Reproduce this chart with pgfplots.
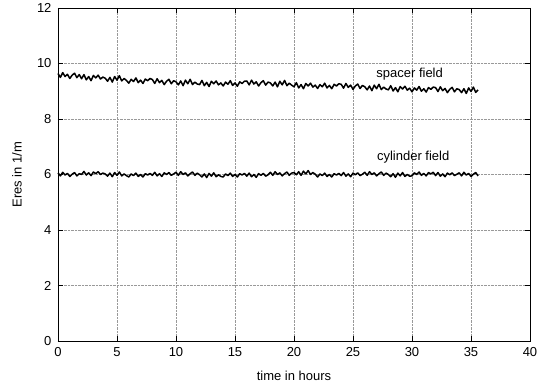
\documentclass[border=0pt]{standalone}
\usepackage{fontspec}
\setmainfont{Liberation Sans}
\usepackage{pgfplots}
\pgfplotsset{compat=1.18}
\usepackage{pgfplotstable}
\usetikzlibrary{calc}

\pgfplotstableread{
x y
0.0 9.64
0.2 9.50
0.4 9.67
0.6 9.53
0.8 9.61
1.0 9.46
1.2 9.58
1.4 9.65
1.6 9.49
1.8 9.60
2.0 9.45
2.2 9.60
2.4 9.41
2.6 9.53
2.8 9.38
3.0 9.57
3.2 9.48
3.4 9.58
3.6 9.44
3.8 9.51
4.0 9.47
4.2 9.36
4.4 9.50
4.6 9.33
4.8 9.53
5.0 9.40
5.2 9.56
5.4 9.37
5.6 9.46
5.8 9.39
6.0 9.29
6.2 9.43
6.4 9.35
6.6 9.48
6.8 9.31
7.0 9.40
7.2 9.28
7.4 9.44
7.6 9.38
7.8 9.46
8.0 9.42
8.2 9.28
8.4 9.45
8.6 9.31
8.8 9.39
9.0 9.24
9.2 9.36
9.4 9.43
9.6 9.27
9.8 9.38
10.0 9.34
10.2 9.23
10.4 9.37
10.6 9.20
10.8 9.40
11.0 9.27
11.2 9.43
11.4 9.24
11.6 9.33
11.8 9.26
12.0 9.24
12.2 9.39
12.4 9.20
12.6 9.32
12.8 9.17
13.0 9.36
13.2 9.27
13.4 9.37
13.6 9.23
13.8 9.30
14.0 9.19
14.2 9.33
14.4 9.25
14.6 9.38
14.8 9.21
15.0 9.30
15.2 9.18
15.4 9.34
15.6 9.28
15.8 9.36
16.0 9.37
16.2 9.23
16.4 9.40
16.6 9.26
16.8 9.34
17.0 9.19
17.2 9.31
17.4 9.38
17.6 9.22
17.8 9.33
18.0 9.30
18.2 9.19
18.4 9.33
18.6 9.16
18.8 9.36
19.0 9.23
19.2 9.39
19.4 9.20
19.6 9.29
19.8 9.22
20.0 9.16
20.2 9.31
20.4 9.12
20.6 9.24
20.8 9.09
21.0 9.28
21.2 9.19
21.4 9.29
21.6 9.15
21.8 9.22
22.0 9.10
22.2 9.24
22.4 9.16
22.6 9.29
22.8 9.12
23.0 9.21
23.2 9.09
23.4 9.25
23.6 9.19
23.8 9.27
24.0 9.25
24.2 9.11
24.4 9.28
24.6 9.14
24.8 9.22
25.0 9.07
25.2 9.19
25.4 9.26
25.6 9.10
25.8 9.21
26.0 9.16
26.2 9.05
26.4 9.19
26.6 9.02
26.8 9.22
27.0 9.09
27.2 9.25
27.4 9.06
27.6 9.15
27.8 9.08
28.0 9.05
28.2 9.20
28.4 9.01
28.6 9.13
28.8 8.98
29.0 9.17
29.2 9.08
29.4 9.18
29.6 9.04
29.8 9.11
30.0 8.98
30.2 9.12
30.4 9.04
30.6 9.17
30.8 9.00
31.0 9.09
31.2 8.97
31.4 9.13
31.6 9.07
31.8 9.15
32.0 9.13
32.2 8.99
32.4 9.16
32.6 9.02
32.8 9.10
33.0 8.95
33.2 9.07
33.4 9.14
33.6 8.98
33.8 9.09
34.0 9.06
34.2 8.95
34.4 9.09
34.6 8.92
34.8 9.12
35.0 8.99
35.2 9.15
35.4 8.96
35.6 9.05
}\spacer

\pgfplotstableread{
x y
0.0 6.06
0.2 5.95
0.4 6.08
0.6 5.98
0.8 6.04
1.0 5.93
1.2 6.01
1.4 6.07
1.6 5.95
1.8 6.03
2.0 6.00
2.2 6.11
2.4 5.98
2.6 6.06
2.8 5.96
3.0 6.09
3.2 6.03
3.4 6.10
3.6 6.00
3.8 6.05
4.0 6.02
4.2 5.94
4.4 6.05
4.6 5.92
4.8 6.07
5.0 5.97
5.2 6.09
5.4 5.95
5.6 6.02
5.8 5.96
6.0 5.91
6.2 6.02
6.4 5.96
6.6 6.05
6.8 5.93
7.0 6.00
7.2 5.91
7.4 6.03
7.6 5.98
7.8 6.04
8.0 5.97
8.2 6.08
8.4 5.95
8.6 6.03
8.8 5.93
9.0 6.06
9.2 6.00
9.4 6.07
9.6 5.97
9.8 6.02
10.0 6.08
10.2 5.97
10.4 6.10
10.6 6.00
10.8 6.06
11.0 5.95
11.2 6.03
11.4 6.09
11.6 5.97
11.8 6.05
12.0 5.99
12.2 5.91
12.4 6.02
12.6 5.89
12.8 6.04
13.0 5.94
13.2 6.06
13.4 5.92
13.6 5.99
13.8 5.93
14.0 5.91
14.2 6.02
14.4 5.96
14.6 6.05
14.8 5.93
15.0 6.00
15.2 5.91
15.4 6.03
15.6 5.98
15.8 6.04
16.0 5.94
16.2 6.05
16.4 5.92
16.6 6.00
16.8 5.90
17.0 6.03
17.2 5.97
17.4 6.04
17.6 5.94
17.8 5.99
18.0 6.08
18.2 5.97
18.4 6.10
18.6 6.00
18.8 6.06
19.0 5.95
19.2 6.03
19.4 6.09
19.6 5.97
19.8 6.05
20.0 6.07
20.2 5.99
20.4 6.10
20.6 5.97
20.8 6.12
21.0 6.02
21.2 6.14
21.4 6.00
21.6 6.07
21.8 6.01
22.0 5.91
22.2 6.02
22.4 5.96
22.6 6.05
22.8 5.93
23.0 6.00
23.2 5.91
23.4 6.03
23.6 5.98
23.8 6.04
24.0 5.96
24.2 6.07
24.4 5.94
24.6 6.02
24.8 5.92
25.0 6.05
25.2 5.99
25.4 6.06
25.6 5.96
25.8 6.01
26.0 6.08
26.2 5.97
26.4 6.10
26.6 6.00
26.8 6.06
27.0 5.95
27.2 6.03
27.4 6.09
27.6 5.97
27.8 6.05
28.0 6.00
28.2 5.92
28.4 6.03
28.6 5.90
28.8 6.05
29.0 5.95
29.2 6.07
29.4 5.93
29.6 6.00
29.8 5.94
30.0 5.95
30.2 6.06
30.4 6.00
30.6 6.09
30.8 5.97
31.0 6.04
31.2 5.95
31.4 6.07
31.6 6.02
31.8 6.08
32.0 5.96
32.2 6.07
32.4 5.94
32.6 6.02
32.8 5.92
33.0 6.05
33.2 5.99
33.4 6.06
33.6 5.96
33.8 6.01
34.0 6.06
34.2 5.95
34.4 6.08
34.6 5.98
34.8 6.04
35.0 5.93
35.2 6.01
35.4 6.07
35.6 5.95
}\cylinder

\begin{document}
\begin{tikzpicture}
\begin{axis}[
  scale only axis,
  width=472pt, height=333pt,
  xmin=0, xmax=40, ymin=0, ymax=12,
  xtick={0,5,...,40}, ytick={0,2,...,12},
  grid=major,
  major grid style={densely dotted, gray!80, line width=0.5pt},
  axis line style={black, line width=0.9pt},
  tick style={black, line width=0.6pt},
  tick align=inside,
  major tick length=5pt,
  xtick pos=both, ytick pos=both,
  xticklabel pos=lower, yticklabel pos=left,
  /pgf/number format/assume math mode=true,
  tick label style={font=\fontsize{13}{15}\selectfont},
  xticklabel style={yshift=-3pt},
  yticklabel style={xshift=-3pt},
  xlabel={time in hours},
  ylabel={Eres in 1/m},
  every axis x label/.style={at={(axis description cs:0.5,-0.105)}, anchor=center, font=\fontsize{13}{15}\selectfont},
  every axis y label/.style={at={(axis description cs:-0.087,0.5)}, anchor=center, rotate=90, font=\fontsize{13}{15}\selectfont},
  clip=false,
]
\addplot[black, line width=1.5pt, line join=round] table[x=x,y=y] {\spacer};
\addplot[black, line width=1.5pt, line join=round] table[x=x,y=y] {\cylinder};
\node[font=\fontsize{13}{15}\selectfont] at (axis cs:29.8,9.62) {spacer field};
\node[font=\fontsize{13}{15}\selectfont] at (axis cs:30.1,6.62) {cylinder field};
\end{axis}
\path ($(current axis.south west)+(-58pt,-44pt)$) rectangle ($(current axis.north east)+(19pt,8pt)$);
\end{tikzpicture}
\end{document}
